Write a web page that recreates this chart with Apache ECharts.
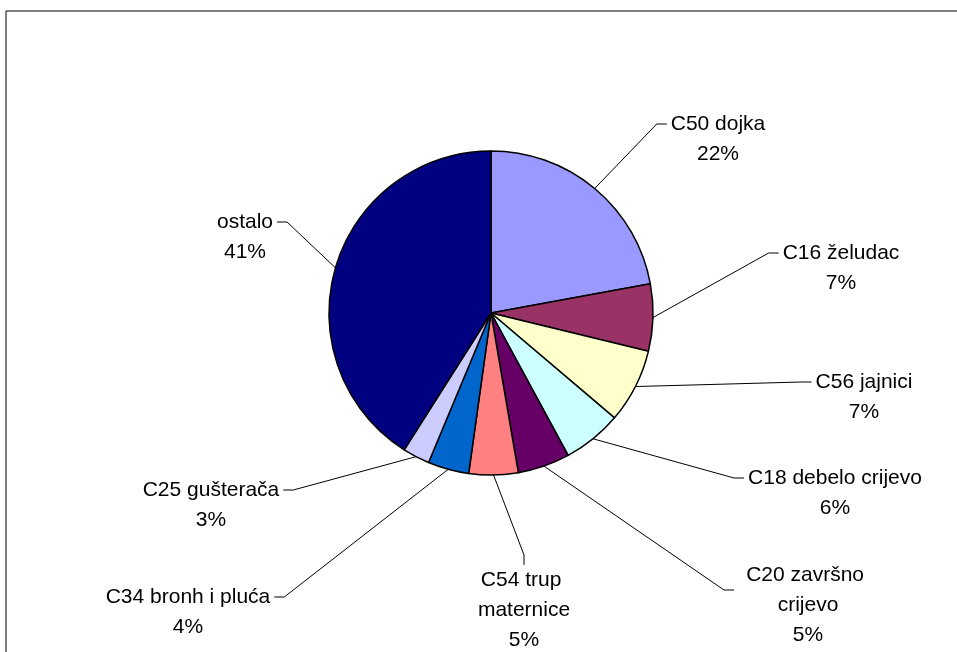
<!DOCTYPE html>
<html>
<head>
<meta charset="utf-8">
<script src="https://cdn.jsdelivr.net/npm/echarts@6/dist/echarts.min.js"></script>
<style>html,body{margin:0;padding:0;background:#fff}#c{width:957px;height:652px}</style>
</head>
<body>
<div id="c"></div>
<script>
var categories = ['C50 dojka','C16 želudac','C56 jajnici','C18 debelo crijevo','C20 završno crijevo','C54 trup maternice','C34 bronh i pluća','C25 gušterača','ostalo'];
var shares = [22.1, 6.7, 7.4, 5.9, 5.2, 4.9, 4.1, 2.7, 41.0];
var colors = ['#9999FF','#993366','#FFFFCC','#CCFFFF','#660066','#FF8080','#0066CC','#CCCCFF','#000080'];

// label placement: centre x and centre y of the first text line
var labelPos = [[718,124],[841,253],[864,382],[835,478],[808,575],[524,580],[188,597],[211,490],[245,222]];
var labelWrap = [0,0,0,0,140,100,0,0,0];
var padTopLines = [1,1,1,1,1,0,1,1,1];
var LH = 30;
var SIDE_GAP = 4;

var chart = echarts.init(document.getElementById('c'));
var data = categories.map(function(n,i){
  var lab = {lineHeight: LH, padding:[padTopLines[i]*LH, SIDE_GAP, 0, SIDE_GAP]};
  if (labelWrap[i]) { lab.width = labelWrap[i]; lab.overflow = 'break'; }
  return {name:n, value:shares[i], itemStyle:{color:colors[i]}, label:lab};
});
chart.setOption({
  animation:false,
  graphic:[{type:'rect', shape:{x:6,y:11,width:1000,height:800}, style:{fill:'none',stroke:'#000',lineWidth:1}, z:-1}],
  series:[{
    type:'pie',
    center:[491,313],
    radius:162,
    startAngle:90,
    clockwise:true,
    data:data,
    itemStyle:{borderColor:'#000',borderWidth:1.5},
    label:{
      show:true,
      formatter:'{b}\n{d}%',
      fontFamily:'Liberation Sans, Arial, sans-serif',
      fontSize:21,
      color:'#000',
      align:'center'
    },
    percentPrecision:0,
    labelLine:{show:true, length:20, length2:10, lineStyle:{color:'#000',width:1}},
    labelLayout:function(p){
      var i = p.dataIndex, pos = labelPos[i];
      var top = pos[1] - LH/2 - padTopLines[i]*LH;
      return {x:pos[0], y:top, align:'center', verticalAlign:'top'};
    },
    emphasis:{disabled:true}
  }]
});
</script>
</body>
</html>
